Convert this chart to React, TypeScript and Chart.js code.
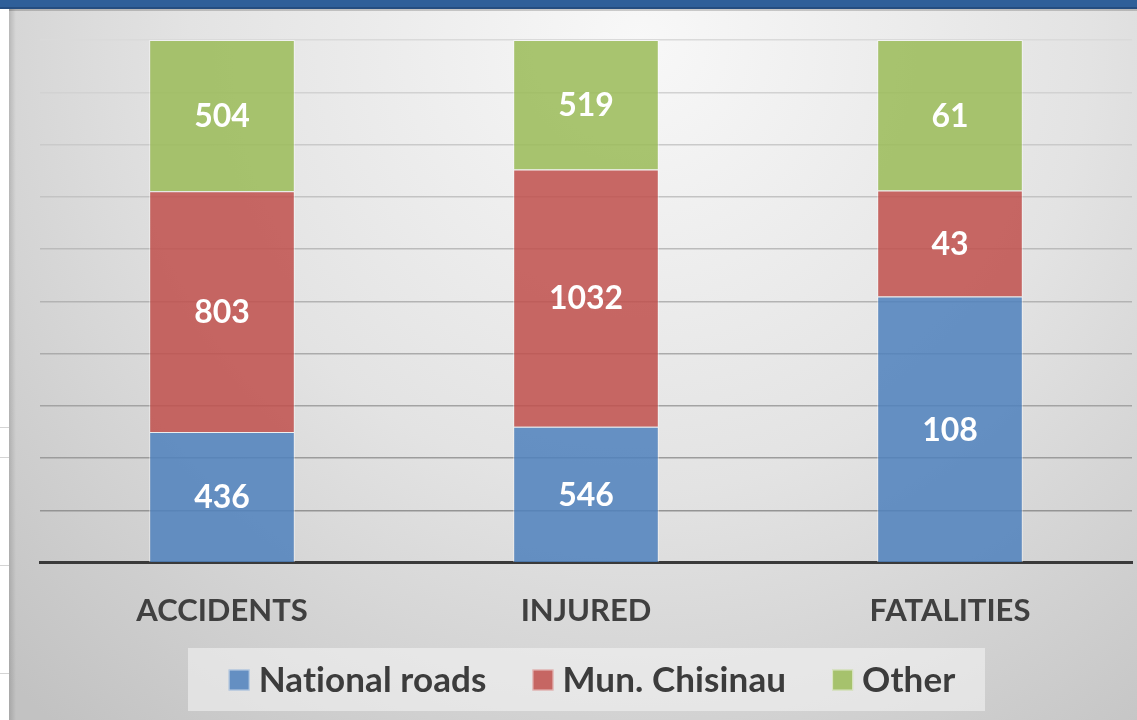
import React, { useEffect, useRef } from "react";
import { Chart, registerables } from "chart.js";

Chart.register(...registerables);

// ---------- data ----------
const categories = ["ACCIDENTS", "INJURED", "FATALITIES"];
const seriesNames = ["National roads", "Mun. Chisinau", "Other"];
const nationalRoads = [436, 546, 108];
const munChisinau = [803, 1032, 43];
const other = [504, 519, 61];
const seriesValues = [nationalRoads, munChisinau, other];
const seriesColors = ["rgba(79,129,189,0.86)", "rgba(192,80,77,0.86)", "rgba(155,187,89,0.86)"];
const percentTicks = [0, 10, 20, 30, 40, 50, 60, 70, 80, 90, 100];

const totals = categories.map((_, j) => seriesValues.reduce((s, arr) => s + arr[j], 0));
const FONT = "Lato, 'Open Sans', sans-serif";

const backgroundPlugin = {
  id: "bg",
  beforeDraw(chart: any) {
    const { ctx, width, height } = chart;
    ctx.save();
    ctx.fillStyle = "#ffffff";
    ctx.fillRect(0, 0, width, height);
    ctx.strokeStyle = "#d4d4d4";
    ctx.lineWidth = 1;
    [427, 457, 565, 673].forEach((y) => {
      ctx.beginPath();
      ctx.moveTo(0, y + 0.5);
      ctx.lineTo(9, y + 0.5);
      ctx.stroke();
    });
    const g = ctx.createRadialGradient(640, 40, 0, 640, 40, 900);
    g.addColorStop(0, "#f8f8f8");
    g.addColorStop(0.5, "#e3e3e3");
    g.addColorStop(1, "#c2c2c2");
    ctx.fillStyle = g;
    ctx.fillRect(9, 9, width - 9, height - 9);
    const s = ctx.createLinearGradient(9, 0, 16, 0);
    s.addColorStop(0, "rgba(0,0,0,0.14)");
    s.addColorStop(1, "rgba(0,0,0,0)");
    ctx.fillStyle = s;
    ctx.fillRect(9, 9, 7, height - 9);
    ctx.fillStyle = "rgba(0,0,0,0.18)";
    ctx.fillRect(9, 9, width - 9, 2);
    ctx.fillStyle = "#2f5f99";
    ctx.fillRect(0, 0, width, 8);
    ctx.fillStyle = "#254d80";
    ctx.fillRect(0, 7, width, 2);
    ctx.restore();
  },
};

const valueLabelPlugin = {
  id: "valueLabels",
  afterDatasetsDraw(chart: any) {
    const { ctx } = chart;
    ctx.save();
    ctx.fillStyle = "#ffffff";
    ctx.font = `bold 32px ${FONT}`;
    ctx.textAlign = "center";
    ctx.textBaseline = "middle";
    seriesValues.forEach((arr, i) => {
      const meta = chart.getDatasetMeta(i);
      meta.data.forEach((el: any, j: number) => {
        const cy = (el.y + el.base) / 2;
        ctx.fillText(String(arr[j]), el.x, cy + 1);
      });
    });
    ctx.restore();
  },
};

const legendPlugin = {
  id: "customLegend",
  afterDraw(chart: any) {
    const { ctx, chartArea } = chart;
    ctx.save();
    const bx = 188, by = 648, bw = 797, bh = 63;
    ctx.fillStyle = "rgba(245,245,245,0.55)";
    ctx.fillRect(bx, by, bw, bh);
    ctx.font = `bold 35px ${FONT}`;
    try {
      (ctx as any).letterSpacing = "0.1px";
    } catch (e) {}
    ctx.textBaseline = "middle";
    ctx.textAlign = "left";
    const box = 21, gapBT = 9, gapItem = 46;
    const widths = seriesNames.map((n) => ctx.measureText(n).width);
    const total = widths.reduce((s, w) => s + w + box + gapBT, 0) + gapItem * (seriesNames.length - 1);
    let x = (chartArea.left + chartArea.right) / 2 + 6 - total / 2;
    const cy = 680;
    seriesNames.forEach((n, i) => {
      ctx.fillStyle = seriesColors[i];
      ctx.fillRect(x, cy - box / 2, box, box);
      ctx.strokeStyle = "rgba(255,255,255,0.6)";
      ctx.lineWidth = 1;
      ctx.strokeRect(x + 0.5, cy - box / 2 + 0.5, box - 1, box - 1);
      ctx.fillStyle = "#3c3c3c";
      ctx.fillText(n, x + box + gapBT, cy + 1);
      x += box + gapBT + widths[i] + gapItem;
    });
    ctx.restore();
  },
};

export default function App() {
  const ref = useRef<HTMLCanvasElement | null>(null);

  useEffect(() => {
    if (!ref.current) return;
    const chart = new Chart(ref.current, {
      type: "bar",
      data: {
        labels: categories,
        datasets: seriesNames.map((name, i) => ({
          label: name,
          data: seriesValues[i].map((v, j) => (v / totals[j]) * 100),
          backgroundColor: seriesColors[i],
          borderColor: "rgba(255,255,255,0.55)",
          borderWidth: 1,
          barPercentage: 0.4,
          categoryPercentage: 1,
        })),
      },
      options: {
        animation: false,
        responsive: false,
        maintainAspectRatio: false,
        layout: { padding: { left: 40, right: 5, top: 40, bottom: 60 } },
        plugins: { legend: { display: false }, tooltip: { enabled: false } },
        scales: {
          x: {
            stacked: true,
            grid: { display: false, drawTicks: false },
            border: { display: true, color: "#3a3a3a", width: 3 },
            ticks: {
              color: "#404040",
              font: { family: FONT, size: 31, weight: "bold" },
              padding: 30,
            },
          },
          y: {
            stacked: true,
            min: 0,
            max: 100,
            afterBuildTicks: (axis: any) => {
              axis.ticks = percentTicks.map((v) => ({ value: v }));
            },
            afterFit: (axis: any) => {
              axis.width = 0;
            },
            ticks: { display: false },
            border: { display: false },
            grid: {
              drawTicks: false,
              lineWidth: 1.5,
              color: (c: any) => {
                const v = c.tick ? c.tick.value : 0;
                const l = Math.round(140 + (v / 100) * 78);
                return `rgb(${l},${l},${l})`;
              },
            },
          },
        },
      },
      plugins: [backgroundPlugin, valueLabelPlugin, legendPlugin],
    });
    return () => chart.destroy();
  }, []);

  return (
    <div style={{ position: "fixed", left: 0, top: 0, width: 1137, height: 720 }}>
      <canvas ref={ref} width={1137} height={720} style={{ display: "block", width: 1137, height: 720 }} />
    </div>
  );
}
